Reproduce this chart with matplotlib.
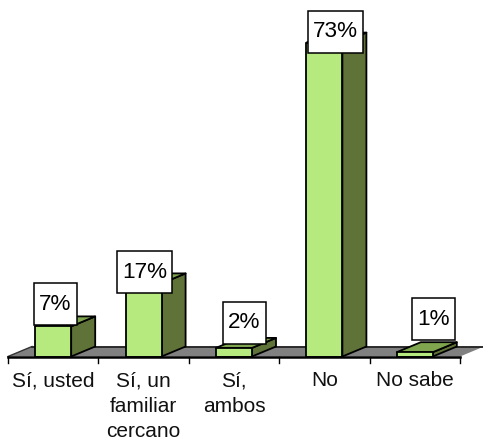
import matplotlib
matplotlib.use('Agg')
import matplotlib.pyplot as plt
from matplotlib.patches import Polygon, Rectangle

categories = ['Sí, usted', 'Sí, un\nfamiliar\ncercano', 'Sí,\nambos', 'No', 'No sabe']
values = [7, 17, 2, 73, 1]
labels = ['7%', '17%', '2%', '73%', '1%']

W, H = 483, 441
BASE = 356.5
LEFT, STEP = 8.0, 90.4
PX_PER_UNIT = 4.3
DX, DY = 24 / STEP, 10 / PX_PER_UNIT
BAR_W = 36 / STEP
label_dx = [2, 1, 10, 11, 19]     # px offset of box centre from bar centre
label_dy = [22, 11, 25, 11, 33]   # px offset of box centre above bar top

plt.rcParams['font.family'] = ['Liberation Sans', 'DejaVu Sans']
fig = plt.figure(figsize=(W / 100, H / 100), dpi=100, facecolor='white')
ax = fig.add_axes([LEFT / W, (H - BASE) / H, 5 * STEP / W, 0.5])
ax.set_xlim(0, 5)
ax.set_ylim(0, 0.5 * H / PX_PER_UNIT)
ax.axis('off')

ec = 'black'
# floor
ax.add_patch(Polygon([(0, 0), (DX, DY), (5 + DX, DY), (5, 0)], closed=True, fc='#808080', ec='none', clip_on=False, zorder=1))
ax.plot([DX, 5 + DX], [DY, DY], color='#222222', lw=1.3, clip_on=False, zorder=1.5)
ax.plot([0, DX], [0, DY], color='#333333', lw=1, clip_on=False, zorder=1.5)
ax.plot([0, 5], [0, 0], color=ec, lw=1.8, clip_on=False, zorder=4)
tick = 6 / PX_PER_UNIT
for i in range(6):
    ax.plot([i, i], [0, -tick], color=ec, lw=1, clip_on=False, zorder=4)

for i, v in enumerate(values):
    x0 = i + 0.5 - BAR_W / 2
    x1 = x0 + BAR_W
    ax.add_patch(Polygon([(x1, 0), (x1 + DX, DY), (x1 + DX, v + DY), (x1, v)], closed=True,
                         fc='#5f7339', ec=ec, lw=1.3, clip_on=False, zorder=2, joinstyle='round'))
    ax.add_patch(Polygon([(x0, v), (x0 + DX, v + DY), (x1 + DX, v + DY), (x1, v)], closed=True,
                         fc='#7fa64f', ec=ec, lw=1.3, clip_on=False, zorder=2, joinstyle='round'))
    ax.add_patch(Polygon([(x0, 0), (x1, 0), (x1, v), (x0, v)], closed=True,
                         fc='#b6ea7e', ec=ec, lw=1.3, clip_on=False, zorder=3, joinstyle='round'))
    # data label box
    cx = i + 0.5 + label_dx[i] / STEP
    cy = v + label_dy[i] / PX_PER_UNIT
    bw = (18 + 12.5 * len(labels[i])) / STEP
    bh = 42 / PX_PER_UNIT
    ax.add_patch(Rectangle((cx - bw / 2, cy - bh / 2), bw, bh, fc='white', ec='black', lw=1.1,
                           clip_on=False, zorder=5))
    ax.text(cx, cy, labels[i], ha='center', va='center', fontsize=16.2, color='black',
            zorder=6, clip_on=False)
    ax.text(i + 0.5, -15 / PX_PER_UNIT, categories[i], ha='center', va='top', fontsize=15,
            color='#111111', linespacing=1.42, clip_on=False, zorder=6)

fig.savefig('out.png', dpi=100, facecolor='white')
